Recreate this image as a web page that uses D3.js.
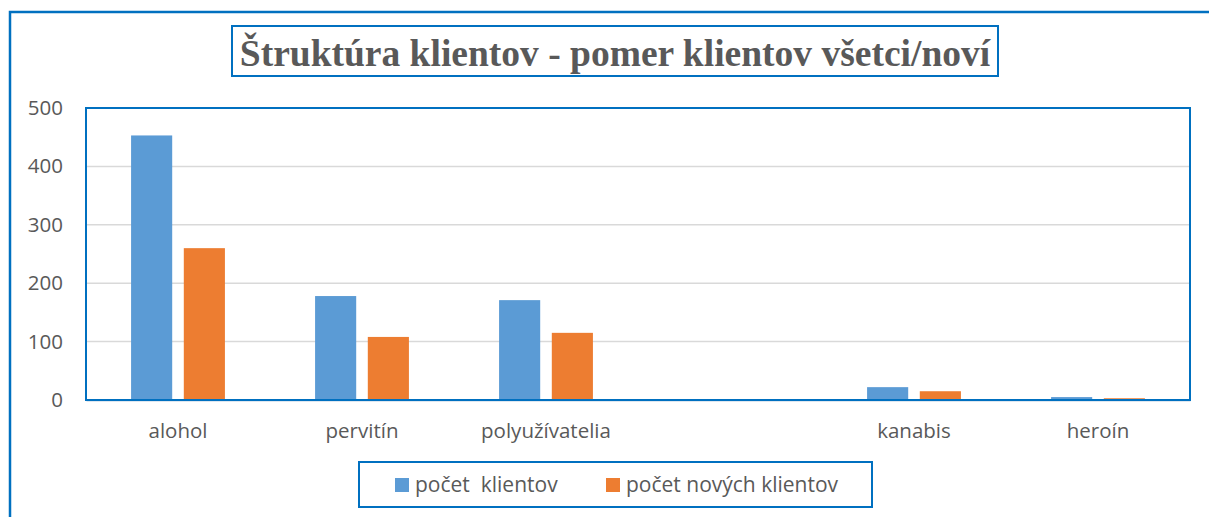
<!DOCTYPE html>
<html>
<head>
<meta charset="utf-8">
<script src="https://cdn.jsdelivr.net/npm/d3@7"></script>
<style>
  body { margin: 0; background: #fff; }
  svg { display: block; }
  .tick text { font-family: "Open Sans", sans-serif; font-size: 20.5px; fill: #595959; }
</style>
</head>
<body>
<div id="target"></div>
<script>
const categories = ['alohol', 'pervitín', 'polyužívatelia', '', 'kanabis', 'heroín'];
const vsetci = [453, 178, 171, null, 22, 5];
const novi = [260, 108, 115, null, 15, 3];
const seriesNames = ['počet  klientov', 'počet nových klientov'];
const yTicks = [0, 100, 200, 300, 400, 500];
const colors = ['#5B9BD5', '#ED7D31'];

const width = 1209;
const height = 517;
const margin = { top: 108, right: 19, bottom: 117, left: 86 };
const frameBlue = '#0070C0';

const svg = d3.select('#target')
  .append('svg')
  .attr('width', width)
  .attr('height', height);

// outer frame (cut by the page edge)
svg.append('path')
  .attr('d', `M10,${height + 5} L10,12 L${width + 5},12`)
  .attr('fill', 'none')
  .attr('stroke', frameBlue)
  .attr('stroke-width', 2.5);

// title box
const titleG = svg.append('g');
titleG.append('rect')
  .attr('x', 232).attr('y', 26).attr('width', 766).attr('height', 50)
  .attr('fill', '#fff').attr('stroke', frameBlue).attr('stroke-width', 2);
titleG.append('text')
  .attr('x', 615).attr('y', 66)
  .attr('text-anchor', 'middle')
  .attr('font-family', '"Liberation Serif", "Times New Roman", serif')
  .attr('font-weight', 'bold')
  .attr('font-size', 37.5)
  .attr('fill', '#595959')
  .text('Štruktúra klientov - pomer klientov všetci/noví');

const plotW = width - margin.left - margin.right;
const plotH = height - margin.top - margin.bottom;

const g = svg.append('g')
  .attr('transform', `translate(${margin.left},${margin.top})`);

const x = d3.scaleBand()
  .domain(d3.range(categories.length))
  .range([0, plotW])
  .paddingInner(0.49)
  .paddingOuter(0.245);

const xSub = d3.scaleBand()
  .domain([0, 1])
  .range([0, x.bandwidth()])
  .paddingInner(0.22);

const y = d3.scaleLinear()
  .domain([0, 500])
  .range([plotH, 0]);

// gridlines
g.append('g')
  .selectAll('line')
  .data(yTicks.slice(1, -1))
  .enter()
  .append('line')
  .attr('x1', 0).attr('x2', plotW)
  .attr('y1', (d) => y(d)).attr('y2', (d) => y(d))
  .attr('stroke', '#D9D9D9')
  .attr('stroke-width', 1.5);

// y axis labels
const yAxis = g.append('g')
  .call(d3.axisLeft(y).tickValues(yTicks).tickSize(0).tickPadding(23));
yAxis.select('.domain').remove();

// bars
const data = categories.map((c, i) => ({ i, vals: [vsetci[i], novi[i]] }));
const groups = g.append('g')
  .selectAll('g')
  .data(data)
  .enter()
  .append('g')
  .attr('transform', (d) => `translate(${x(d.i)},0)`);

groups.selectAll('rect')
  .data((d) => d.vals.map((v, s) => ({ v, s })).filter((e) => e.v !== null))
  .enter()
  .append('rect')
  .attr('x', (d) => xSub(d.s))
  .attr('width', xSub.bandwidth())
  .attr('y', (d) => y(d.v))
  .attr('height', (d) => plotH - y(d.v))
  .attr('fill', (d) => colors[d.s]);

// x axis
const xAxis = g.append('g')
  .attr('transform', `translate(0,${plotH})`)
  .call(d3.axisBottom(x).tickFormat((i) => categories[i]).tickSize(0).tickPadding(23));
xAxis.select('.domain')
  .attr('stroke', '#BFCFDF')
  .attr('stroke-width', 2);

// plot border
g.append('rect')
  .attr('x', 0).attr('y', 0).attr('width', plotW).attr('height', plotH)
  .attr('fill', 'none')
  .attr('stroke', frameBlue)
  .attr('stroke-width', 2);

// legend
const legend = svg.append('g').attr('transform', 'translate(359,462)');
legend.append('rect')
  .attr('width', 513).attr('height', 45)
  .attr('fill', '#fff').attr('stroke', frameBlue).attr('stroke-width', 2);
const legendX = [36, 247];
seriesNames.forEach((name, s) => {
  legend.append('rect')
    .attr('x', legendX[s]).attr('y', 16)
    .attr('width', 14).attr('height', 14)
    .attr('fill', colors[s]);
  legend.append('text')
    .attr('x', legendX[s] + 20).attr('y', 30)
    .attr('font-family', '"Open Sans", sans-serif')
    .attr('font-size', 21)
    .attr('fill', '#595959')
    .attr('xml:space', 'preserve')
    .style('white-space', 'pre')
    .text(name);
});
</script>
</body>
</html>
